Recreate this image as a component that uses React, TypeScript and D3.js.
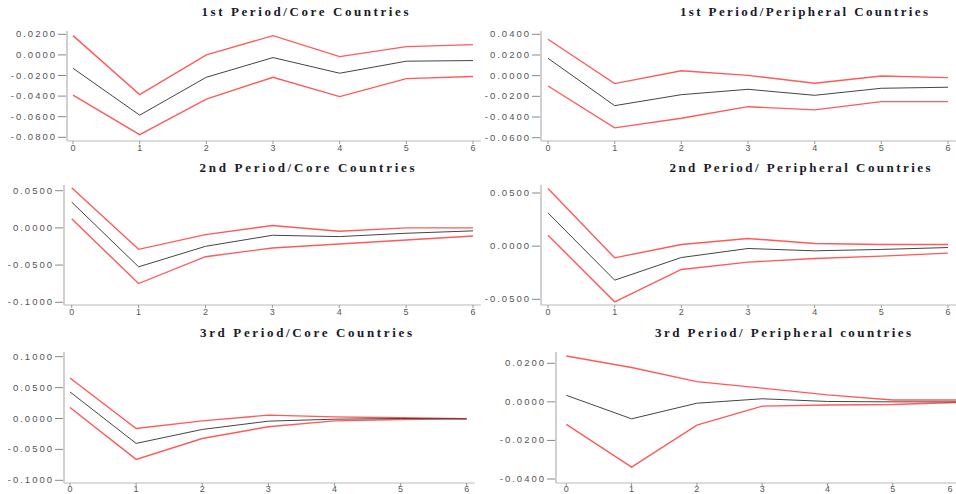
import React from 'react';
import { scaleLinear, line } from 'd3';

// horizon steps shown on every panel
const steps = [0, 1, 2, 3, 4, 5, 6];

const titles = [
  '1st Period/Core Countries',
  '1st Period/Peripheral Countries',
  '2nd Period/Core Countries',
  '2nd Period/ Peripheral Countries',
  '3rd Period/Core Countries',
  '3rd Period/ Peripheral countries',
];

// y tick values per panel
const yTicks = [
  [0.02, 0, -0.02, -0.04, -0.06, -0.08],
  [0.04, 0.02, 0, -0.02, -0.04, -0.06],
  [0.05, 0, -0.05, -0.1],
  [0.05, 0, -0.05],
  [0.1, 0.05, 0, -0.05, -0.1],
  [0.02, 0, -0.02, -0.04],
];

// response (black) and upper / lower bands (red)
const response = [
  [-0.013, -0.0585, -0.0217, -0.0026, -0.0178, -0.0061, -0.0055],
  [0.0168, -0.029, -0.0184, -0.0132, -0.019, -0.0122, -0.0112],
  [0.0347, -0.0523, -0.0248, -0.0099, -0.0117, -0.0072, -0.004],
  [0.0313, -0.032, -0.0107, -0.0022, -0.0044, -0.0031, -0.0013],
  [0.043, -0.0403, -0.0177, -0.0043, -0.0011, 0, -0.0005],
  [0.0034, -0.0088, -0.0007, 0.0016, 0.0002, 0, 0],
];
const upper = [
  [0.0187, -0.0385, 0.0, 0.0187, -0.0017, 0.008, 0.01],
  [0.0352, -0.0077, 0.0048, 0.0003, -0.0074, -0.0003, -0.0019],
  [0.054, -0.0288, -0.009, 0.0032, -0.0045, 0, 0],
  [0.0542, -0.011, 0.0016, 0.0072, 0.0025, 0.0016, 0.0016],
  [0.0656, -0.0161, -0.0038, 0.0054, 0.0027, 0.0011, -0.0005],
  [0.0238, 0.0178, 0.0105, 0.0071, 0.0036, 0.001, 0.001],
];
const lower = [
  [-0.039, -0.0774, -0.043, -0.0217, -0.0405, -0.023, -0.021],
  [-0.01, -0.0505, -0.0412, -0.03, -0.0331, -0.0251, -0.0251],
  [0.0122, -0.0748, -0.0387, -0.027, -0.0216, -0.0162, -0.0108],
  [0.0103, -0.0524, -0.0219, -0.015, -0.0116, -0.0094, -0.0066],
  [0.0177, -0.0661, -0.0323, -0.0134, -0.0038, -0.0016, -0.0005],
  [-0.0117, -0.0338, -0.0121, -0.0022, -0.0016, -0.0014, -0.0003],
];

// panel geometry (pixels)
const layout = [
  { ax: 67, x0: 73, x6: 473, yHiPx: 34.3, yLoPx: 137.3, base: 141, top: 31, tx: 305, ty: 16, tw: 207 },
  { ax: 541, x0: 548, x6: 948, yHiPx: 34.3, yLoPx: 137.7, base: 141, top: 31, tx: 804, ty: 16, tw: 248 },
  { ax: 64, x0: 71.7, x6: 473, yHiPx: 190.7, yLoPx: 302.3, base: 305, top: 185, tx: 307, ty: 172, tw: 215 },
  { ax: 541, x0: 548, x6: 948, yHiPx: 193, yLoPx: 299.3, base: 305, top: 185, tx: 800, ty: 172, tw: 261 },
  { ax: 64, x0: 70, x6: 466.7, yHiPx: 356.7, yLoPx: 480.3, base: 483, top: 352, tx: 306, ty: 337, tw: 212 },
  { ax: 556, x0: 566.3, x6: 958, yHiPx: 363.3, yLoPx: 479, base: 483, top: 352, tx: 783, ty: 337, tw: 256 },
];

const fmt = (v: number) => (Math.abs(v) < 1e-9 ? '0.0000' : v.toFixed(4));

function Panel({ i }: { i: number }) {
  const L = layout[i];
  const ticks = yTicks[i];
  const x = scaleLinear().domain([0, 6]).range([L.x0, L.x6]);
  const y = scaleLinear()
    .domain([ticks[0], ticks[ticks.length - 1]])
    .range([L.yHiPx, L.yLoPx]);
  const lineF = line<number>()
    .x((_, k) => x(steps[k]))
    .y(d => y(d));
  // keep bottom-row labels inside the page
  const labY = Math.min(L.base + 9.5, 492);

  return (
    <g>
      <text
        x={L.tx}
        y={L.ty}
        textAnchor="middle"
        textLength={L.tw}
        lengthAdjust="spacing"
        style={{ fontFamily: '"Liberation Serif", serif', fontWeight: 'bold', fontSize: 13, fill: '#1a1a2a' }}
      >
        {titles[i]}
      </text>
      {/* y axis */}
      <line x1={L.ax} x2={L.ax} y1={L.top} y2={L.base} style={{ stroke: '#d0d0d0', strokeWidth: 2 }} />
      {ticks.map(t => (
        <g key={t} transform={`translate(${L.ax},${y(t)})`}>
          <line x1={-9} x2={-1} y1={0} y2={0} style={{ stroke: '#888', strokeWidth: 1 }} />
          <text
            x={-10}
            y={3}
            textAnchor="end"
            style={{ fontFamily: '"Liberation Sans", Arial, sans-serif', fontSize: 9.5, fill: '#555', letterSpacing: 2 }}
          >
            {fmt(t)}
          </text>
        </g>
      ))}
      {/* x axis */}
      <line x1={L.ax} x2={L.x6 + 8} y1={L.base} y2={L.base} style={{ stroke: '#d0d0d0', strokeWidth: 1.5 }} />
      {steps.map(s => (
        <g key={s} transform={`translate(${x(s)},${L.base})`}>
          <line x1={0} x2={0} y1={0} y2={3} style={{ stroke: '#999' }} />
          <text
            x={Math.min(0, 950 - x(s))}
            y={labY - L.base}
            textAnchor="middle"
            style={{ fontFamily: '"Liberation Sans", Arial, sans-serif', fontSize: 9, fill: '#555' }}
          >
            {s}
          </text>
        </g>
      ))}
      <path d={lineF(upper[i]) || ''} style={{ fill: 'none', stroke: '#ff5a5a', strokeWidth: 1.4 }} />
      <path d={lineF(lower[i]) || ''} style={{ fill: 'none', stroke: '#ff5a5a', strokeWidth: 1.4 }} />
      <path d={lineF(response[i]) || ''} style={{ fill: 'none', stroke: '#444', strokeWidth: 1 }} />
    </g>
  );
}

export default function App() {
  return (
    <svg
      width={956}
      height={494}
      style={{ position: 'absolute', left: 0, top: 0, background: '#fff' }}
    >
      <rect width={956} height={494} fill="#fff" />
      {titles.map((_, i) => (
        <Panel key={i} i={i} />
      ))}
    </svg>
  );
}
